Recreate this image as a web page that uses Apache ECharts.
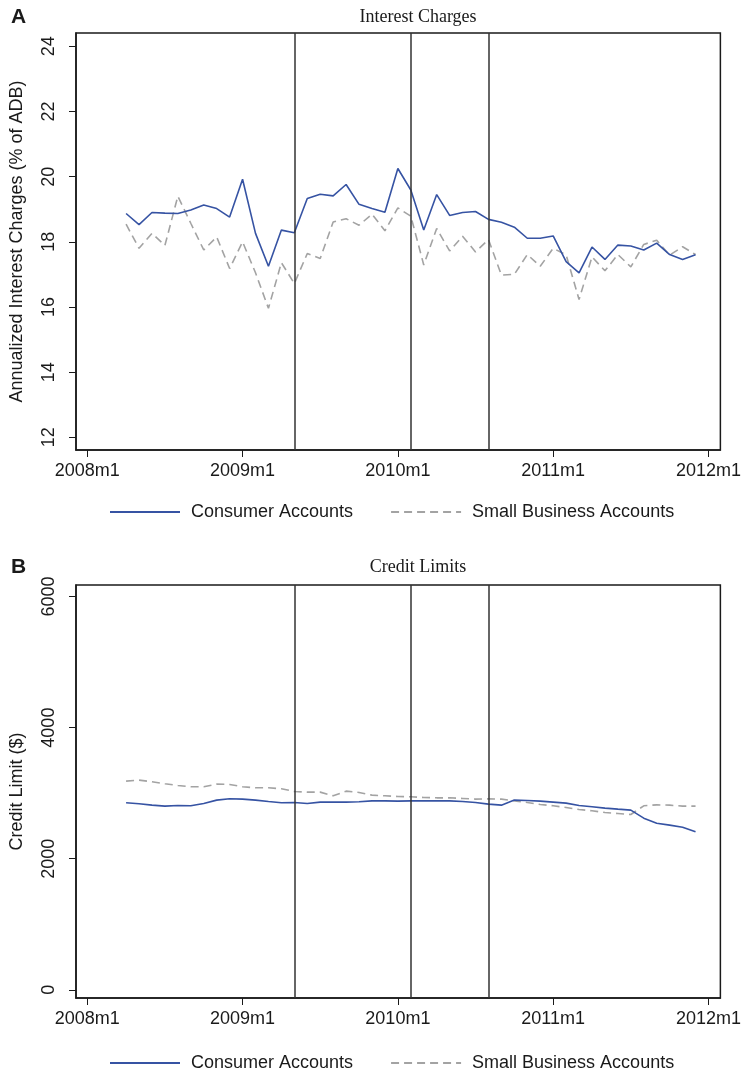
<!DOCTYPE html>
<html>
<head>
<meta charset="utf-8">
<script src="https://cdn.jsdelivr.net/npm/echarts@6.0.0/dist/echarts.min.js"></script>
<style>
    html, body { margin: 0; padding: 0; background: #fff; }
    #chart { width: 744px; height: 1072px; }
</style>
</head>
<body>
<div id="chart"></div>
<script>
// month index counted from 2008m1 = 0
const months = [3, 4, 5, 6, 7, 8, 9, 10, 11, 12, 13, 14, 15, 16, 17, 18, 19, 20, 21, 22, 23, 24, 25, 26, 27, 28, 29, 30, 31, 32, 33, 34, 35, 36, 37, 38, 39, 40, 41, 42, 43, 44, 45, 46, 47]
const yearTicks = [0, 12, 24, 36, 48]
const policyDates = [16, 25, 31] // 2009m5, 2010m2, 2010m8
const legendNames = ['Consumer Accounts', 'Small Business Accounts']

const interestTicks = [12, 14, 16, 18, 20, 22, 24]
const interestConsumer = [18.87, 18.53, 18.9, 18.88, 18.87, 18.98, 19.13, 19.02, 18.76, 19.92, 18.26, 17.25, 18.36, 18.28, 19.33, 19.46, 19.41, 19.76, 19.15, 19.02, 18.91, 20.25, 19.59, 18.36, 19.45, 18.81, 18.9, 18.93, 18.69, 18.6, 18.45, 18.11, 18.11, 18.18, 17.39, 17.05, 17.84, 17.46, 17.9, 17.87, 17.75, 17.96, 17.61, 17.46, 17.6]
const interestSmallBiz = [18.54, 17.8, 18.26, 17.89, 19.4, 18.57, 17.75, 18.15, 17.18, 18.0, 17.05, 15.96, 17.36, 16.72, 17.64, 17.49, 18.61, 18.71, 18.51, 18.85, 18.34, 19.04, 18.79, 17.29, 18.41, 17.72, 18.17, 17.69, 18.07, 16.98, 17.0, 17.61, 17.25, 17.8, 17.6, 16.23, 17.54, 17.11, 17.61, 17.23, 17.92, 18.05, 17.59, 17.85, 17.61]

const limitTicks = [0, 2000, 4000, 6000]
const limitConsumer = [2853, 2838, 2817, 2802, 2812, 2807, 2843, 2894, 2914, 2909, 2894, 2873, 2853, 2858, 2843, 2863, 2863, 2863, 2868, 2883, 2883, 2878, 2883, 2883, 2883, 2883, 2873, 2858, 2833, 2817, 2894, 2889, 2878, 2863, 2848, 2812, 2792, 2772, 2756, 2741, 2619, 2542, 2512, 2481, 2410]
const limitSmallBiz = [3184, 3199, 3174, 3143, 3118, 3097, 3097, 3138, 3133, 3097, 3082, 3082, 3067, 3026, 3016, 3016, 2960, 3031, 3011, 2970, 2960, 2950, 2945, 2934, 2929, 2929, 2919, 2909, 2914, 2909, 2883, 2858, 2828, 2807, 2782, 2751, 2731, 2705, 2690, 2675, 2807, 2822, 2817, 2802, 2802]

const sans = 'Liberation Sans'
const ink = '#1a1a1a'
const blue = '#3653a3'
const grey = '#a3a3a3'

function pairs(values) {
    return months.map((m, i) => [m, values[i]])
}

function makeXAxis(gridIndex) {
    return {
        type: 'value',
        gridIndex: gridIndex,
        min: -0.87,
        max: 48.92,
        axisLine: { show: true, onZero: false, lineStyle: { color: ink, width: 1.5 } },
        splitLine: { show: false },
        axisTick: { show: true, inside: false, length: 7, customValues: yearTicks, lineStyle: { color: ink, width: 1 } },
        axisLabel: {
            customValues: yearTicks,
            margin: 12,
            fontSize: 18,
            fontFamily: sans,
            color: ink,
            formatter: (v) => 2008 + Math.round(v / 12) + 'm1',
        },
    }
}

function makeYAxis(gridIndex, name, min, max, ticks) {
    return {
        type: 'value',
        gridIndex: gridIndex,
        min: min,
        max: max,
        name: name,
        nameLocation: 'middle',
        nameGap: 50,
        nameRotate: 90,
        nameTextStyle: { fontSize: 18, fontFamily: sans, color: ink },
        axisLine: { show: true, onZero: false, lineStyle: { color: ink, width: 1.5 } },
        splitLine: { show: false },
        axisTick: { show: true, inside: false, length: 7, customValues: ticks, lineStyle: { color: ink, width: 1 } },
        axisLabel: {
            customValues: ticks,
            rotate: 90,
            margin: 18,
            fontSize: 18,
            fontFamily: sans,
            color: ink,
            formatter: (v) => String(v),
        },
    }
}

function makeLine(name, values, axisIndex, dashed, withMarks) {
    let s = {
        name: name,
        type: 'line',
        xAxisIndex: axisIndex,
        yAxisIndex: axisIndex,
        symbol: 'none',
        data: pairs(values),
        lineStyle: dashed ? { color: grey, width: 1.6, type: [8, 5] } : { color: blue, width: 1.6 },
        itemStyle: { color: dashed ? grey : blue },
        z: dashed ? 3 : 4,
    }
    if (withMarks) {
        s.markLine = {
            silent: true,
            symbol: 'none',
            label: { show: false },
            lineStyle: { color: '#333', width: 1.5, type: 'solid' },
            data: policyDates.map((d) => ({ xAxis: d })),
        }
    }
    return s
}

function makeLegend(top) {
    return {
        data: legendNames,
        left: 104,
        top: top,
        itemWidth: 70,
        itemHeight: 12,
        itemGap: 37,
        itemStyle: { opacity: 0 },
        textStyle: { fontSize: 18, fontFamily: sans, color: ink, padding: [0, 0, 0, 6] },
    }
}

let myChart = echarts.init(document.getElementById('chart'))
let option
option = {
    animation: false,
    backgroundColor: '#fff',
    title: [
        { text: 'A', left: 6, top: 2, textStyle: { fontSize: 21, fontWeight: 'bold', fontFamily: sans, color: ink } },
        { text: 'Interest Charges', left: 413, top: 3, textAlign: 'center', textStyle: { fontSize: 18, fontWeight: 'normal', fontFamily: 'Liberation Serif', color: ink } },
        { text: 'B', left: 6, top: 552, textStyle: { fontSize: 21, fontWeight: 'bold', fontFamily: sans, color: ink } },
        { text: 'Credit Limits', left: 413, top: 553, textAlign: 'center', textStyle: { fontSize: 18, fontWeight: 'normal', fontFamily: 'Liberation Serif', color: ink } },
    ],
    legend: [makeLegend(498), makeLegend(1049)],
    grid: [
        { left: 76, top: 33, width: 646, height: 417, show: true, borderColor: ink, borderWidth: 1.5, backgroundColor: 'transparent' },
        { left: 76, top: 585, width: 646, height: 413, show: true, borderColor: ink, borderWidth: 1.5, backgroundColor: 'transparent' },
    ],
    xAxis: [makeXAxis(0), makeXAxis(1)],
    yAxis: [
        makeYAxis(0, 'Annualized Interest Charges (% of ADB)', 11.61, 24.41, interestTicks),
        makeYAxis(1, 'Credit Limit ($)', -125, 6176, limitTicks),
    ],
    series: [
        makeLine(legendNames[0], interestConsumer, 0, false, true),
        makeLine(legendNames[1], interestSmallBiz, 0, true, false),
        makeLine(legendNames[0], limitConsumer, 1, false, true),
        makeLine(legendNames[1], limitSmallBiz, 1, true, false),
    ],
}
myChart.setOption(option)
</script>
</body>
</html>
